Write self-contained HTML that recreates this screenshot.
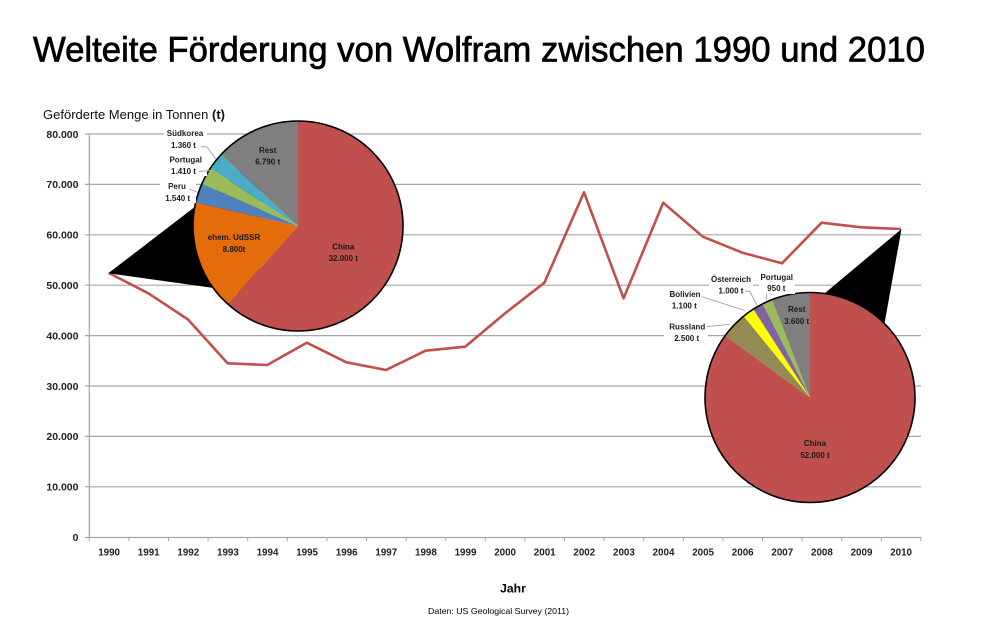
<!DOCTYPE html>
<html><head><meta charset="utf-8"><style>
html,body{margin:0;padding:0;background:#fff;}
svg{display:block;font-family:"Liberation Sans",Arial,sans-serif;}
</style></head><body>
<svg width="1000" height="625" viewBox="0 0 1000 625" xmlns="http://www.w3.org/2000/svg">
<rect width="1000" height="625" fill="#fff"/>
<text x="33" y="61.5" font-size="35" fill="#000" stroke="#000" stroke-width="0.7" textLength="892" lengthAdjust="spacingAndGlyphs">Welteite Förderung von Wolfram zwischen 1990 und 2010</text>
<text x="43" y="119" font-size="13" fill="#111" textLength="182" lengthAdjust="spacingAndGlyphs">Geförderte Menge in Tonnen <tspan font-weight="bold">(t)</tspan></text>
<!-- gridlines -->
<g stroke="#a6a6a6" stroke-width="1.2">
<line x1="85" y1="134" x2="921" y2="134"/>
<line x1="85" y1="184.4" x2="921" y2="184.4"/>
<line x1="85" y1="234.8" x2="921" y2="234.8"/>
<line x1="85" y1="285.2" x2="921" y2="285.2"/>
<line x1="85" y1="335.6" x2="921" y2="335.6"/>
<line x1="85" y1="386" x2="921" y2="386"/>
<line x1="85" y1="436.4" x2="921" y2="436.4"/>
<line x1="85" y1="486.8" x2="921" y2="486.8"/>
<line x1="85" y1="537.5" x2="921" y2="537.5"/>
<line x1="89.3" y1="134" x2="89.3" y2="537.5"/>
</g>
<g stroke="#a6a6a6" stroke-width="1">
<line x1="89.3" y1="537" x2="89.3" y2="541"/><line x1="128.9" y1="537" x2="128.9" y2="541"/><line x1="168.5" y1="537" x2="168.5" y2="541"/><line x1="208.1" y1="537" x2="208.1" y2="541"/><line x1="247.7" y1="537" x2="247.7" y2="541"/><line x1="287.3" y1="537" x2="287.3" y2="541"/><line x1="326.9" y1="537" x2="326.9" y2="541"/><line x1="366.5" y1="537" x2="366.5" y2="541"/><line x1="406.1" y1="537" x2="406.1" y2="541"/><line x1="445.7" y1="537" x2="445.7" y2="541"/><line x1="485.3" y1="537" x2="485.3" y2="541"/><line x1="524.9" y1="537" x2="524.9" y2="541"/><line x1="564.5" y1="537" x2="564.5" y2="541"/><line x1="604.1" y1="537" x2="604.1" y2="541"/><line x1="643.7" y1="537" x2="643.7" y2="541"/><line x1="683.3" y1="537" x2="683.3" y2="541"/><line x1="722.9" y1="537" x2="722.9" y2="541"/><line x1="762.5" y1="537" x2="762.5" y2="541"/><line x1="802.1" y1="537" x2="802.1" y2="541"/><line x1="841.7" y1="537" x2="841.7" y2="541"/><line x1="881.3" y1="537" x2="881.3" y2="541"/><line x1="920.9" y1="537" x2="920.9" y2="541"/>
</g>
<!-- y labels -->
<g font-size="10.5" font-weight="bold" fill="#222" text-anchor="end">
<text x="78.5" y="137.8">80.000</text>
<text x="78.5" y="188.2">70.000</text>
<text x="78.5" y="238.6">60.000</text>
<text x="78.5" y="289">50.000</text>
<text x="78.5" y="339.4">40.000</text>
<text x="78.5" y="389.8">30.000</text>
<text x="78.5" y="440.2">20.000</text>
<text x="78.5" y="490.6">10.000</text>
<text x="78.5" y="541">0</text>
</g>
<!-- x labels -->
<g font-size="9.8" font-weight="bold" fill="#222" text-anchor="middle">
<text x="109.1" y="555.5">1990</text><text x="148.7" y="555.5">1991</text><text x="188.3" y="555.5">1992</text><text x="227.9" y="555.5">1993</text><text x="267.5" y="555.5">1994</text><text x="307.1" y="555.5">1995</text><text x="346.7" y="555.5">1996</text><text x="386.3" y="555.5">1997</text><text x="425.9" y="555.5">1998</text><text x="465.5" y="555.5">1999</text><text x="505.1" y="555.5">2000</text><text x="544.7" y="555.5">2001</text><text x="584.3" y="555.5">2002</text><text x="623.9" y="555.5">2003</text><text x="663.5" y="555.5">2004</text><text x="703.1" y="555.5">2005</text><text x="742.7" y="555.5">2006</text><text x="782.3" y="555.5">2007</text><text x="821.9" y="555.5">2008</text><text x="861.5" y="555.5">2009</text><text x="901.1" y="555.5">2010</text>
</g>
<text x="513" y="592.5" font-size="12.2" font-weight="bold" fill="#000" text-anchor="middle">Jahr</text>
<text x="428" y="614" font-size="8.5" fill="#000" textLength="141" lengthAdjust="spacingAndGlyphs">Daten: US Geological Survey (2011)</text>
<!-- data line -->
<polyline fill="none" stroke="#c0504d" stroke-width="2.6" stroke-linejoin="round" points="108.8,273 148.4,293.3 188,319.5 227.6,363.3 267.2,365 306.8,342.7 346.4,362.3 386,370 425.6,350.7 465.2,346.7 504.8,313.5 544.4,282.7 584,192.3 623.6,298.3 663.2,202.7 702.8,236.7 742.4,252.7 782,263.3 821.6,222.7 861.2,227.3 900.8,229"/>
<!-- callout triangles -->
<polygon points="108.3,273.3 260,156.9 260,294.5" fill="#000"/>
<polygon points="901.5,229 800,314 872.5,390" fill="#000"/>
<!-- left pie -->
<g>
<path d="M298,226 L298,121 A105,105 0 1 1 227.8,304.1 Z" fill="#c0504d"/>
<path d="M298,226 L227.8,304.1 A105,105 0 0 1 195.7,202.4 Z" fill="#e46c0a"/>
<path d="M298,226 L195.7,202.4 A105,105 0 0 1 201.9,183.8 Z" fill="#4f81bd"/>
<path d="M298,226 L201.9,183.8 A105,105 0 0 1 210.4,168.1 Z" fill="#9bbb59"/>
<path d="M298,226 L210.4,168.1 A105,105 0 0 1 221.1,154.5 Z" fill="#4bacc6"/>
<path d="M298,226 L221.1,154.5 A105,105 0 0 1 298,121 Z" fill="#7f7f7f"/>
<circle cx="298" cy="226" r="105" fill="none" stroke="#000" stroke-width="1.6"/>
</g>
<!-- right pie -->
<g>
<path d="M810,397.5 L810,292.5 A105,105 0 1 1 725.2,335.6 Z" fill="#c0504d"/>
<path d="M810,397.5 L725.2,335.6 A105,105 0 0 1 743.7,316.1 Z" fill="#948a54"/>
<path d="M810,397.5 L743.7,316.1 A105,105 0 0 1 753.3,309.1 Z" fill="#ffff00"/>
<path d="M810,397.5 L753.3,309.1 A105,105 0 0 1 762.7,303.8 Z" fill="#8064a2"/>
<path d="M810,397.5 L762.7,303.8 A105,105 0 0 1 772,299.6 Z" fill="#9bbb59"/>
<path d="M810,397.5 L772,299.6 A105,105 0 0 1 810,292.5 Z" fill="#7f7f7f"/>
<circle cx="810" cy="397.5" r="105" fill="none" stroke="#000" stroke-width="1.6"/>
</g>
<!-- label backgrounds -->
<g fill="#fff">
<rect x="164" y="128" width="43" height="22"/>
<rect x="164" y="153" width="43" height="23"/>
<rect x="160" y="180" width="36" height="23"/>
<rect x="709" y="273" width="44" height="23"/>
<rect x="759" y="271" width="36" height="23"/>
<rect x="664" y="289" width="42" height="22"/>
<rect x="664" y="321" width="44" height="22"/>
</g>
<!-- leader lines -->
<g stroke="#a0a0a0" stroke-width="0.9" fill="none">
<polyline points="201,146.5 207,147 216,159"/>
<polyline points="199,171.5 210,170.5"/>
<polyline points="189,189 197,192"/>
<polyline points="701.7,296.7 745,310.5"/>
<polyline points="706.7,326.7 730,324.3"/>
<polyline points="745,291 750,291.5 756.7,305"/>
<polyline points="766.7,293.3 766,300"/>
</g>
<!-- pie labels -->
<g font-size="8" font-weight="bold" fill="#1a1a1a" text-anchor="middle">
<text x="185" y="136">Südkorea</text>
<text x="183.5" y="148">1.360 t</text>
<text x="185.7" y="162.5">Portugal</text>
<text x="183.5" y="174">1.410 t</text>
<text x="177" y="189">Peru</text>
<text x="177.7" y="201">1.540 t</text>
<text x="267.7" y="153">Rest</text>
<text x="267.7" y="164.5">6.790 t</text>
<text x="343.3" y="249.5">China</text>
<text x="343.3" y="261">32.000 t</text>
<text x="234" y="240">ehem. UdSSR</text>
<text x="234" y="252">8.800t</text>
<text x="731" y="282">Österreich</text>
<text x="731" y="293.5">1.000 t</text>
<text x="776.7" y="280">Portugal</text>
<text x="776.3" y="291">950 t</text>
<text x="685" y="297">Bolivien</text>
<text x="684.3" y="308.5">1.100 t</text>
<text x="687.3" y="329.5">Russland</text>
<text x="686.7" y="341">2.500 t</text>
<text x="796.7" y="312">Rest</text>
<text x="796.7" y="324">3.600 t</text>
<text x="815" y="446">China</text>
<text x="815" y="458">52.000 t</text>
</g>
</svg>
</body></html>
